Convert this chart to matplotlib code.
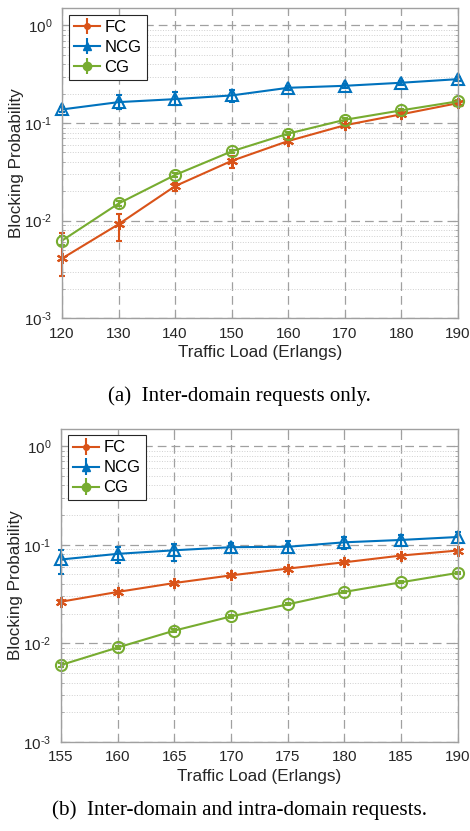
import numpy as np
import matplotlib
matplotlib.use("Agg")
import matplotlib.pyplot as plt
from matplotlib.ticker import LogLocator, FixedLocator, NullFormatter, FuncFormatter

plt.rcParams['font.family'] = ['Liberation Sans', 'DejaVu Sans']
plt.rcParams['mathtext.fontset'] = 'custom'
plt.rcParams['mathtext.rm'] = 'Liberation Sans'
plt.rcParams['mathtext.it'] = 'Liberation Sans:italic'

# --- (a) inter-domain requests only ---
load_a = [120, 130, 140, 150, 160, 170, 180, 190]
fc_a = [0.0041, 0.0092, 0.0226, 0.041, 0.0655, 0.095, 0.123, 0.160]
fc_a_lo = [0.0027, 0.0062, 0.0200, 0.035, 0.0625, 0.091, 0.118, 0.154]
fc_a_hi = [0.0074, 0.0117, 0.0245, 0.046, 0.0690, 0.099, 0.128, 0.166]
ncg_a = [0.138, 0.164, 0.176, 0.192, 0.230, 0.241, 0.259, 0.282]
ncg_a_lo = [0.130, 0.140, 0.152, 0.164, 0.220, 0.230, 0.247, 0.270]
ncg_a_hi = [0.146, 0.195, 0.207, 0.220, 0.240, 0.252, 0.271, 0.294]
cg_a = [0.00625, 0.0150, 0.0294, 0.0513, 0.078, 0.108, 0.135, 0.167]
cg_a_lo = [0.0056, 0.0140, 0.0280, 0.0495, 0.075, 0.104, 0.130, 0.161]
cg_a_hi = [0.0070, 0.0160, 0.0308, 0.0530, 0.081, 0.112, 0.140, 0.173]

# --- (b) inter-domain and intra-domain requests ---
load_b = [155, 160, 165, 170, 175, 180, 185, 190]
fc_b = [0.0265, 0.0333, 0.041, 0.049, 0.0574, 0.0665, 0.0778, 0.0875]
fc_b_lo = [0.0255, 0.0322, 0.0398, 0.0477, 0.0560, 0.0650, 0.0760, 0.0855]
fc_b_hi = [0.0275, 0.0344, 0.0422, 0.0503, 0.0588, 0.0680, 0.0796, 0.0895]
ncg_b = [0.071, 0.081, 0.088, 0.0946, 0.0955, 0.106, 0.112, 0.120]
ncg_b_lo = [0.050, 0.066, 0.068, 0.083, 0.083, 0.090, 0.097, 0.105]
ncg_b_hi = [0.088, 0.095, 0.103, 0.105, 0.110, 0.120, 0.127, 0.135]
cg_b = [0.00605, 0.0091, 0.0135, 0.0188, 0.0249, 0.0333, 0.0417, 0.0519]
cg_b_lo = [0.0058, 0.0088, 0.0131, 0.0183, 0.0243, 0.0325, 0.0408, 0.0508]
cg_b_hi = [0.0063, 0.0094, 0.0139, 0.0193, 0.0255, 0.0341, 0.0426, 0.0530]

series_names = ['FC', 'NCG', 'CG']
colors = ['#D95319', '#0072BD', '#77AC30']
asterisk = (6, 2, 0)
markers = [asterisk, '^', 'o']
legend_markers = ['o', '^', 'o']


def pow10_label(v, pos):
    e = int(round(np.log10(v)))
    if e < 0:
        return r'$10^{\text{-}%d}$' % (-e)
    return r'$10^{%d}$' % e


def draw_panel(ax, x, data, xticks):
    for (y, lo, hi), name, c, m in zip(data, series_names, colors, markers):
        y = np.array(y)
        err = [y - np.array(lo), np.array(hi) - y]
        cont = ax.errorbar(x, y, yerr=err, color=c, marker=m, ms=8,
                           mfc='none', mec=c, mew=1.5, lw=1.5, elinewidth=1.5,
                           capsize=2.5, capthick=1.5)
        for art in [cont[0], *cont[1], *cont[2]]:
            art.set_clip_on(False)
    # legend entries: small filled markers like the reference
    for name, c, lm in zip(series_names, colors, legend_markers):
        ms = 4 if name == 'FC' else 6
        ax.errorbar([], [], yerr=[], color=c, marker=lm, ms=ms, mfc=c, mec=c,
                    lw=1.5, elinewidth=1.5, capsize=2.5, capthick=1.5, label=name)
    ax.set_yscale('log')
    ax.set_ylim(1e-3, 1.5)
    ax.set_xlim(xticks[0], xticks[-1])
    ax.xaxis.set_major_locator(FixedLocator(xticks))
    ax.yaxis.set_major_locator(LogLocator(base=10, numticks=10))
    ax.yaxis.set_major_formatter(FuncFormatter(pow10_label))
    ax.yaxis.set_minor_locator(LogLocator(base=10, subs=np.arange(2, 10), numticks=10))
    ax.yaxis.set_minor_formatter(NullFormatter())
    ax.grid(True, which='major', ls=(0, (7, 4)), color='#a0a0a0', lw=0.9)
    ax.grid(True, which='minor', axis='y', ls=':', color='#d0d0d0', lw=0.7)
    for s in ax.spines.values():
        s.set_color('#a0a0a0')
        s.set_linewidth(1.0)
    ax.tick_params(which='both', direction='in', colors='#a0a0a0', labelcolor='#262626',
                   labelsize=11, top=True, right=True)
    ax.tick_params(axis='x', pad=6)
    ax.tick_params(axis='y', pad=7)
    ax.tick_params(which='minor', length=2)
    ax.set_xlabel('Traffic Load (Erlangs)', fontsize=12.3, color='#262626', labelpad=3)
    ax.set_ylabel('Blocking Probability', fontsize=12.3, color='#262626')
    ax.yaxis.set_label_coords(-0.096, 0.5)
    leg = ax.legend(loc='upper left', fontsize=12, fancybox=False, framealpha=1,
                    edgecolor='#262626', handlelength=1.6, borderpad=0.3,
                    labelspacing=0.3, handletextpad=0.25, borderaxespad=0.4)
    leg.get_frame().set_linewidth(0.8)


fig = plt.figure(figsize=(4.70, 8.31), dpi=100)
ax1 = fig.add_axes([0.132, 0.617, 0.842, 0.373])
ax2 = fig.add_axes([0.130, 0.107, 0.844, 0.377])

draw_panel(ax1, load_a, [(fc_a, fc_a_lo, fc_a_hi), (ncg_a, ncg_a_lo, ncg_a_hi),
                         (cg_a, cg_a_lo, cg_a_hi)], [120, 130, 140, 150, 160, 170, 180, 190])
draw_panel(ax2, load_b, [(fc_b, fc_b_lo, fc_b_hi), (ncg_b, ncg_b_lo, ncg_b_hi),
                         (cg_b, cg_b_lo, cg_b_hi)], [155, 160, 165, 170, 175, 180, 185, 190])

fig.text(0.509, 1 - 396 / 831, '(a)  Inter-domain requests only.', ha='center', va='center',
         family='Liberation Serif', fontsize=15)
fig.text(0.509, 1 - 810 / 831, '(b)  Inter-domain and intra-domain requests.', ha='center',
         va='center', family='Liberation Serif', fontsize=15.2)

fig.savefig('out.png', dpi=100)
